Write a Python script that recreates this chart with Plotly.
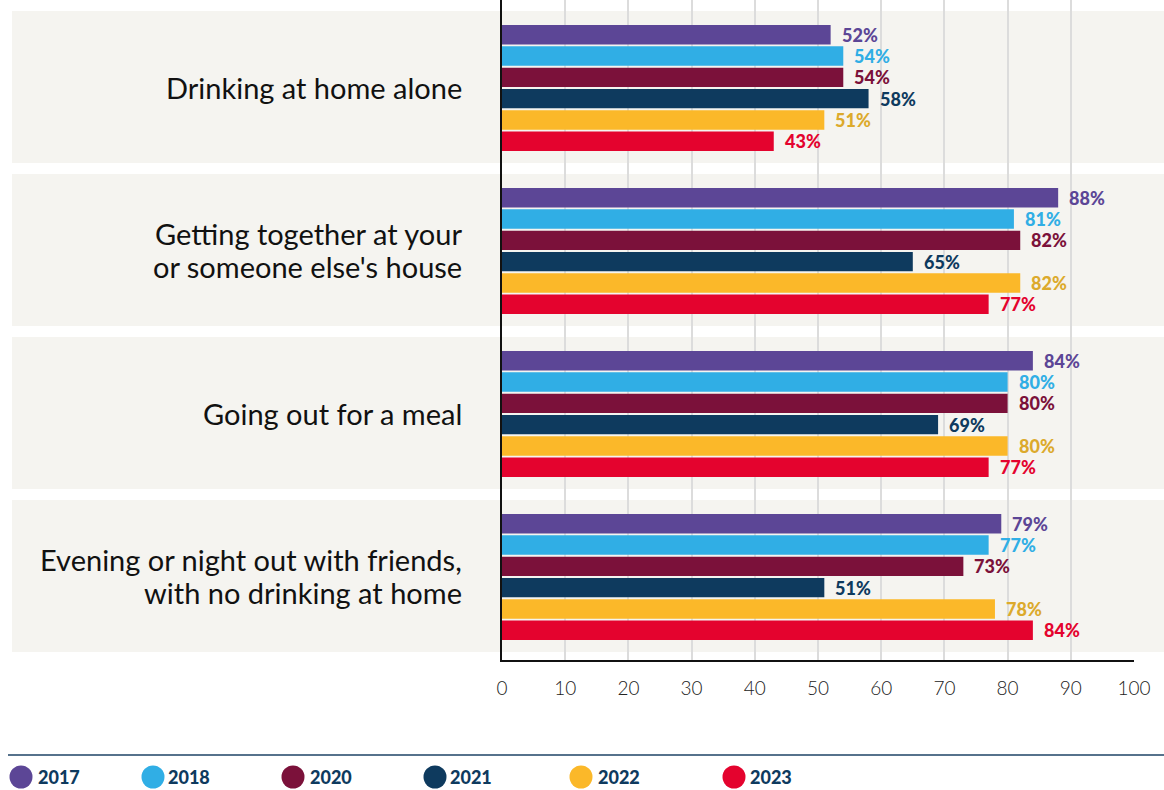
import plotly.graph_objects as go

# Survey data: share of respondents (%) by drinking occasion and year
categories = [
    "Drinking at home alone",
    "Getting together at your\nor someone else's house",
    "Going out for a meal",
    "Evening or night out with friends,\nwith no drinking at home",
]
years = ["2017", "2018", "2020", "2021", "2022", "2023"]
values_2017 = [52, 88, 84, 79]
values_2018 = [54, 81, 80, 77]
values_2020 = [54, 82, 80, 73]
values_2021 = [58, 65, 69, 51]
values_2022 = [51, 82, 80, 78]
values_2023 = [43, 77, 77, 84]
series = [values_2017, values_2018, values_2020, values_2021, values_2022, values_2023]

bar_colors = ["#5c4696", "#30aee5", "#7b113a", "#0e3a5e", "#fbb829", "#e4032e"]
label_colors = ["#5c4696", "#30aee5", "#7b113a", "#0e3a5e", "#dcaa2c", "#e4032e"]

W, H = 1164, 790
ML, MR, MT, MB = 502, 30, 0, 130
PW, PH = W - ML - MR, H - MT - MB
ROW = 163  # pixel height of one category row

y_pos = list(range(len(categories)))

fig = go.Figure()
for yr, vals, col in zip(years, series, bar_colors):
    fig.add_trace(go.Bar(
        y=y_pos, x=vals, name=yr, orientation="h",
        marker=dict(color=col, line=dict(width=0)),
        showlegend=False, hoverinfo="skip",
    ))

# Value labels just right of each bar
n = len(years)
bargap, groupgap = 0.217, 0.085
slot = (1 - bargap) / n
annotations = []
for k, (vals, lcol) in enumerate(zip(series, label_colors)):
    for i, v in enumerate(vals):
        yc = i - (1 - bargap) / 2 + slot * (k + 0.5)
        annotations.append(dict(
            x=v, y=yc, xref="x", yref="y", text=f"{v}%",
            showarrow=False, xanchor="left", yanchor="middle", xshift=9,
            font=dict(family="Lato", size=18, color=lcol, weight=900),
        ))

# Category labels, right-aligned left of the axis, one annotation per line
line_step = 33
for i, cat in enumerate(categories):
    lines = cat.split("\n")
    for j, ln in enumerate(lines):
        off = (j - (len(lines) - 1) / 2) * line_step
        annotations.append(dict(
            x=0, y=i, xref="paper", yref="y", text=ln,
            showarrow=False, xanchor="right", yanchor="middle",
            xshift=-38, yshift=-off + 1,
            font=dict(family="Lato", size=29, color="#111111"),
        ))

# Light bands behind each category
shapes = []
for i in y_pos:
    shapes.append(dict(
        type="rect", xref="paper", yref="y",
        x0=(12 - ML) / PW, x1=(W - ML) / PW,
        y0=i - 0.472, y1=i + 0.460,
        fillcolor="#f5f4f0", line=dict(width=0), layer="below",
    ))

# Separator line above the legend
shapes.append(dict(
    type="line", xref="paper", yref="paper",
    x0=(8 - ML) / PW, x1=(W - ML) / PW,
    y0=(PH - 755) / PH, y1=(PH - 755) / PH,
    line=dict(color="#56728c", width=2),
))

# Legend: circles and year labels
legend_cx = [21, 153, 293, 435, 581, 734]
legend_tx = [36, 166, 308, 448, 596, 748]
ly = (PH - 777) / PH
for yr, col, cx, tx in zip(years, bar_colors, legend_cx, legend_tx):
    shapes.append(dict(
        type="circle", xref="paper", yref="paper",
        xsizemode="pixel", ysizemode="pixel",
        xanchor=(cx - ML) / PW, yanchor=ly,
        x0=-11.5, x1=11.5, y0=-11.5, y1=11.5,
        fillcolor=col, line=dict(width=0),
    ))
    annotations.append(dict(
        x=(tx - ML) / PW, y=ly, xref="paper", yref="paper", text=yr,
        showarrow=False, xanchor="left", yanchor="middle",
        font=dict(family="Lato", size=18, color="#0e3a5e", weight=900),
    ))

fig.update_layout(
    width=W, height=H,
    margin=dict(l=ML, r=MR, t=MT, b=MB, pad=0),
    paper_bgcolor="white", plot_bgcolor="white",
    barmode="group", bargap=bargap, bargroupgap=groupgap,
    shapes=shapes, annotations=annotations,
    showlegend=False,
)
fig.update_xaxes(
    range=[0, 100], tickvals=list(range(0, 101, 10)),
    showgrid=True, gridcolor="#dcdcdc", gridwidth=2,
    showline=True, linecolor="#111111", linewidth=2,
    zeroline=False, ticks="", ticklabelstandoff=10,
    tickfont=dict(family="Lato", size=19, color="#222222", weight=300),
    fixedrange=True,
)
fig.update_yaxes(
    range=[(PH - 88) / ROW, -88 / ROW],
    tickvals=y_pos, showticklabels=False,
    showgrid=False, zeroline=False,
    showline=True, linecolor="#111111", linewidth=2,
    ticks="", fixedrange=True,
)

fig.write_html("out.html", config={"displayModeBar": False})
